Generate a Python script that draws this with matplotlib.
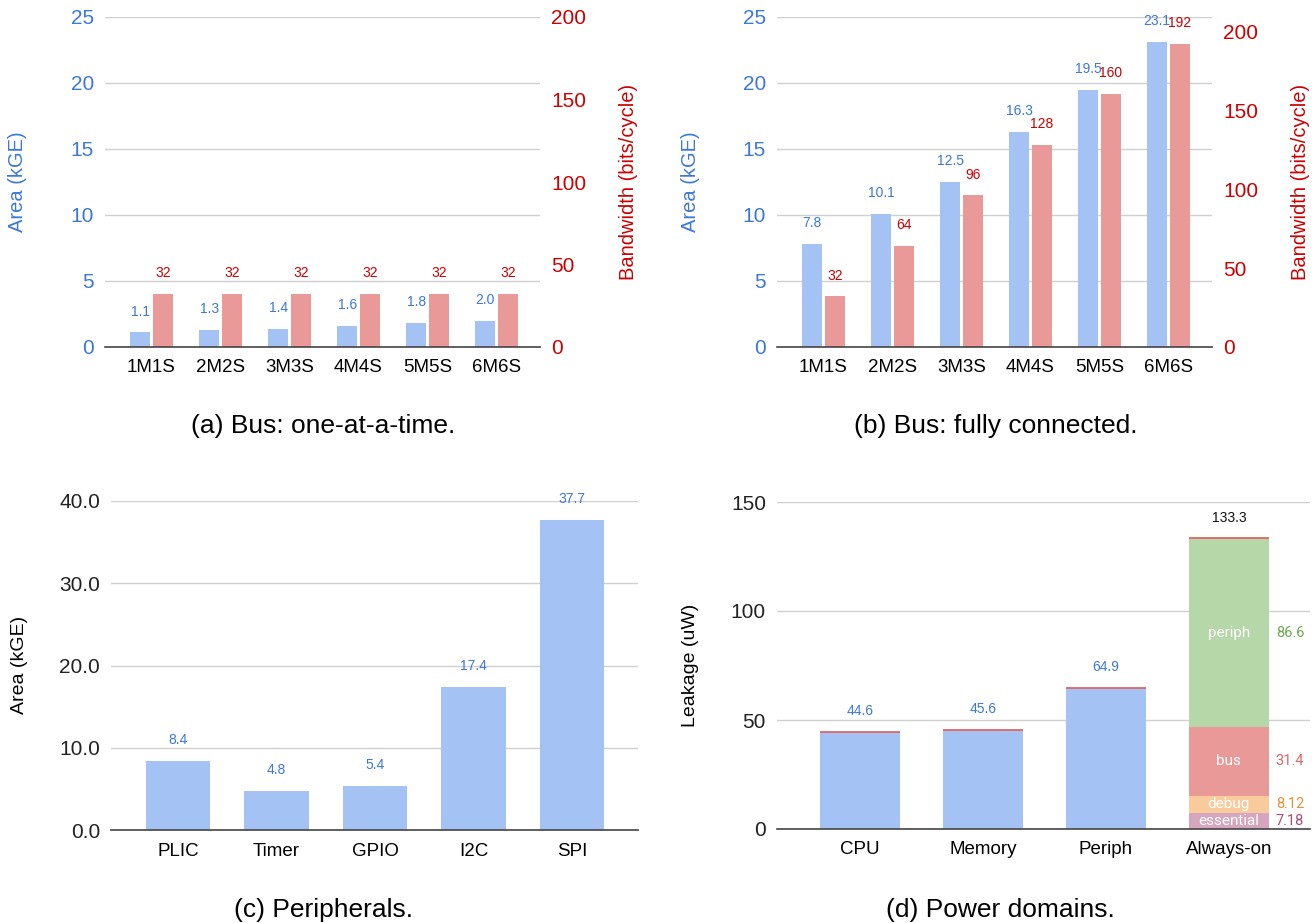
import numpy as np
import matplotlib
matplotlib.use("Agg")
import matplotlib.pyplot as plt

plt.rcParams['font.family'] = ['Liberation Sans', 'DejaVu Sans']

# bus configurations
bus_cfg = ['1M1S', '2M2S', '3M3S', '4M4S', '5M5S', '6M6S']
area_oaat = [1.1, 1.3, 1.4, 1.6, 1.8, 2.0]
bw_oaat = [32, 32, 32, 32, 32, 32]
area_full = [7.8, 10.1, 12.5, 16.3, 19.5, 23.1]
bw_full = [32, 64, 96, 128, 160, 192]

# peripherals
periphs = ['PLIC', 'Timer', 'GPIO', 'I2C', 'SPI']
periph_area = [8.4, 4.8, 5.4, 17.4, 37.7]

# power domains
domains = ['CPU', 'Memory', 'Periph', 'Always-on']
domain_leak = [44.6, 45.6, 64.9]
aon_parts = ['essential', 'debug', 'bus', 'periph']
aon_leak = [7.18, 8.12, 31.4, 86.6]

BLUE = '#a4c2f4'
RED = '#ea9999'
BLUE_TXT = '#3c78d8'
RED_TXT = '#cc0000'
GRID = '#d0d0d0'
AXIS = '#444444'
aon_colors = ['#d5a6bd', '#f9cb9c', '#ea9999', '#b6d7a8']
aon_txt = ['#a64d79', '#e69138', '#e06666', '#6aa84f']

W, H = 1315, 923
fig = plt.figure(figsize=(W / 100, H / 100), dpi=100)


def box(l, r, t, b):
    return [l / W, 1 - b / H, (r - l) / W, (b - t) / H]


def style(ax, ticks, ymax, tick_color='#222222', fmt='{:g}'):
    ax.set_ylim(0, ymax)
    ax.set_yticks(ticks)
    ax.set_yticklabels([fmt.format(t) for t in ticks])
    ax.grid(axis='y', color=GRID, lw=1)
    ax.set_axisbelow(True)
    for s in ['top', 'right', 'left']:
        ax.spines[s].set_visible(False)
    ax.spines['bottom'].set_color(AXIS)
    ax.spines['bottom'].set_linewidth(1.2)
    ax.tick_params(axis='y', length=0, pad=8, labelsize=15, labelcolor=tick_color)
    ax.tick_params(axis='x', length=0, pad=9, labelsize=13.5)


def bus_panel(rect, area, bw, bw_max, caption, cx):
    ax = fig.add_axes(rect)
    x = np.arange(len(bus_cfg))
    style(ax, [0, 5, 10, 15, 20, 25], 25, BLUE_TXT)
    ax.set_xlim(-0.674, 5.63)
    ax.set_xticks(x)
    ax.set_xticklabels(bus_cfg)
    ax2 = ax.twinx()
    ax2.set_ylim(0, bw_max)
    ax2.set_yticks([0, 50, 100, 150, 200])
    ax2.bar(x + 0.165, bw, 0.29, color=RED)
    for s in ax2.spines.values():
        s.set_visible(False)
    ax2.tick_params(axis='y', length=0, pad=8, labelsize=15, labelcolor=RED_TXT)
    for xi, v in zip(x, bw):
        ax2.annotate(f'{v:d}', (xi + 0.165, v), xytext=(0, 10), textcoords='offset points',
                     ha='center', va='bottom', fontsize=10, color=RED_TXT)
    # blue bars and their labels drawn above the twin axes
    ax.set_zorder(ax2.get_zorder() + 1)
    ax.patch.set_visible(False)
    ax2.patch.set_visible(True)
    ax2.grid(False)
    ax.bar(x - 0.165, area, 0.29, color=BLUE)
    for xi, v in zip(x, area):
        ax.annotate(f'{v:.1f}', (xi - 0.165, v), xytext=(0, 10), textcoords='offset points',
                    ha='center', va='bottom', fontsize=10, color=BLUE_TXT)
    # gridlines sit on the back axes so they stay behind the red bars
    for t in [5, 10, 15, 20, 25]:
        ax2.axhline(t * bw_max / 25, color=GRID, lw=1, zorder=0)
    ax.grid(False)
    pos = ax.get_position()
    yc = pos.y0 + pos.height / 2
    fig.text((pos.x0 * W - 87) / W, yc, 'Area (kGE)', rotation=90, ha='center', va='center',
             fontsize=14.5, color=BLUE_TXT)
    fig.text((pos.x1 * W + 88) / W, yc, 'Bandwidth (bits/cycle)', rotation=90, ha='center',
             va='center', fontsize=14.5, color=RED_TXT)
    fig.text(cx / W, 1 - 426 / H, caption, ha='center', va='center', fontsize=19)


bus_panel(box(105, 540, 17, 347), area_oaat, bw_oaat, 200, '(a) Bus: one-at-a-time.', 323)
bus_panel(box(777, 1212, 17, 347), area_full, bw_full, 209, '(b) Bus: fully connected.', 996)

# (c) peripherals
axc = fig.add_axes(box(111, 638, 501, 830))
style(axc, [0, 10, 20, 30, 40], 40, fmt='{:.1f}')
xc = np.arange(len(periphs))
axc.bar(xc, periph_area, 0.65, color=BLUE)
axc.set_xlim(-0.68, 4.67)
axc.set_xticks(xc)
axc.set_xticklabels(periphs)
for xi, v in zip(xc, periph_area):
    axc.annotate(f'{v:.1f}', (xi, v), xytext=(0, 10), textcoords='offset points',
                 ha='center', va='bottom', fontsize=10, color=BLUE_TXT, annotation_clip=False)
fig.text(20 / W, 1 - 665 / H, 'Area (kGE)', rotation=90, ha='center', va='center', fontsize=14)
fig.text(323 / W, 1 - 910 / H, '(c) Peripherals.', ha='center', va='center', fontsize=19)

# (d) power domains
axd = fig.add_axes(box(777, 1310, 502, 829))
style(axd, [0, 50, 100, 150], 150)
xd = np.arange(len(domains))
w = 0.65
axd.bar(xd[:3], domain_leak, w, color=BLUE)
bottom = 0.0
for name, v, c, tc in zip(aon_parts, aon_leak, aon_colors, aon_txt):
    axd.bar(xd[3], v, w, bottom=bottom, color=c)
    mid = bottom + v / 2
    axd.text(xd[3], mid, name, ha='center', va='center', fontsize=11, color='white',
             family=['Roboto', 'DejaVu Sans'])
    axd.annotate(f'{v:g}', (xd[3] + w / 2, mid), xytext=(5, 0), textcoords='offset points',
                 ha='left', va='center', fontsize=10.5, color=tc, family=['Roboto', 'DejaVu Sans'])
    bottom += v
tops = domain_leak + [round(sum(aon_leak), 1)]
axd.hlines(tops, xd - w / 2, xd + w / 2, color='#e06666', lw=1.3)
for xi, v in zip(xd, tops):
    axd.annotate(f'{v:.1f}', (xi, v), xytext=(0, 10), textcoords='offset points', ha='center',
                 va='bottom', fontsize=10, color=BLUE_TXT if xi < 3 else '#111111')
axd.set_xlim(-0.675, 3.66)
axd.set_xticks(xd)
axd.set_xticklabels(domains)
fig.text(690 / W, 1 - 665 / H, 'Leakage (uW)', rotation=90, ha='center', va='center', fontsize=14)
fig.text(1000 / W, 1 - 910 / H, '(d) Power domains.', ha='center', va='center', fontsize=19)

fig.savefig('out.png', dpi=100)
